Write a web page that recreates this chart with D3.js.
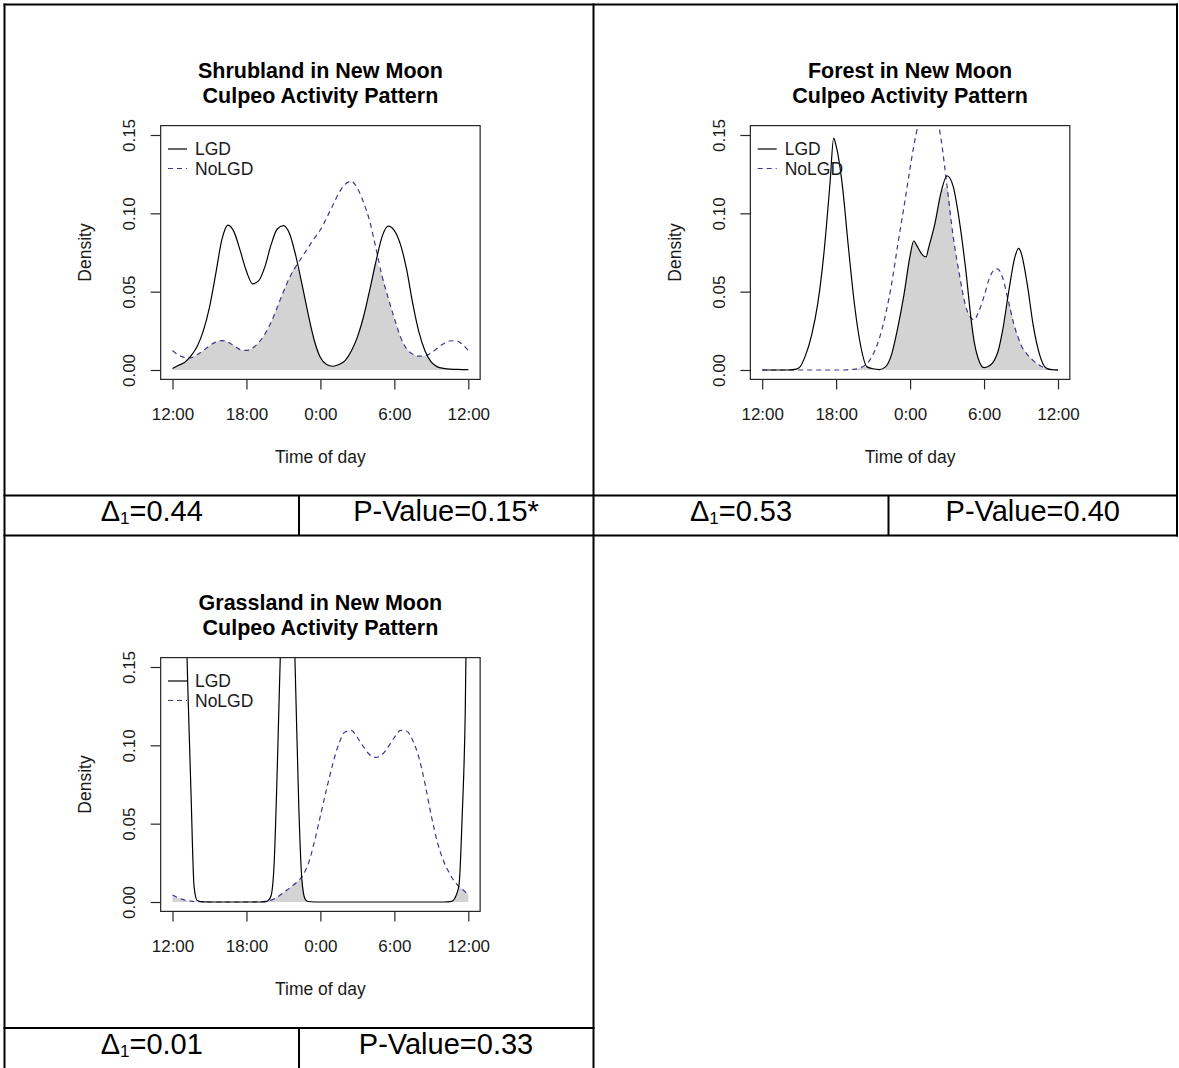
<!DOCTYPE html>
<html>
<head>
<meta charset="utf-8">
<script src="https://cdn.jsdelivr.net/npm/d3@7"></script>
<style>
  html, body { margin: 0; padding: 0; background: #fff; }
  svg { display: block; }
</style>
</head>
<body>
<svg id="fig" width="1179" height="1068"></svg>
<script>
// ---- Kernel density estimates of culpeo activity (hours after 12:00 noon) ----

// Shrubland
const shrubHours = [0,0.5,1,1.5,2,2.5,3,3.5,4,4.5,5,5.5,6,6.5,7,7.5,8,8.5,9,9.5,10,10.5,11,11.5,12,
  12.5,13,13.5,14,14.5,15,15.5,16,16.5,17,17.5,18,18.5,19,19.5,20,20.5,21,21.5,22,22.5,23,23.5,24];
const shrubLGD = [0.001,0.003,0.005,0.009,0.015,0.025,0.040,0.061,0.083,0.0925,0.088,0.076,0.063,0.055,0.057,0.066,
  0.080,0.090,0.0922,0.087,0.073,0.055,0.036,0.019,0.008,0.0035,0.0024,0.0035,0.006,0.012,0.021,0.034,0.051,0.069,
  0.085,0.0918,0.089,0.080,0.064,0.042,0.024,0.012,0.005,0.002,0.001,0.0005,0.0004,0.0003,0.0003];
const shrubNoLGD = [0.0124,0.0095,0.0080,0.0078,0.0098,0.0124,0.0155,0.0178,0.0188,0.0178,0.0155,0.0130,0.0125,
  0.0140,0.0175,0.0230,0.0305,0.0400,0.0500,0.0590,0.0660,0.0720,0.0780,0.0840,0.0895,0.0970,0.1050,0.1130,0.1185,
  0.1205,0.1160,0.1070,0.0950,0.0780,0.0600,0.0460,0.0330,0.0210,0.0135,0.0100,0.0088,0.0090,0.0110,0.0140,0.0168,
  0.0185,0.0187,0.0165,0.0124];

// Forest
const forestHours = [0,0.5,1,1.5,2,2.5,3,3.5,4,4.5,5,5.5,5.8,6,6.5,7,7.5,8,8.5,9,9.5,10,10.5,11,11.5,12,12.3,12.5,
  13,13.3,13.5,14,14.5,15,15.5,16,16.5,17,17.2,17.5,18,18.5,19,19.1,19.5,20,20.5,20.8,21,21.5,22,22.5,23,23.5,24];
const forestLGD = [0,0,0,0,0,0.0002,0.0015,0.009,0.022,0.042,0.074,0.119,0.148,0.143,0.118,0.078,0.041,0.015,0.002,
  0.0008,0.0003,0.002,0.010,0.027,0.048,0.073,0.0825,0.080,0.0735,0.0722,0.078,0.093,0.113,0.124,0.117,0.095,0.065,
  0.029,0.018,0.008,0.0015,0.003,0.009,0.011,0.025,0.050,0.072,0.0776,0.075,0.055,0.028,0.010,0.0015,0.0002,0];
const forestNoLGD = [0,0,0,0,0,0,0,0,0,0,0,0,0,0,0,0.0002,0.0005,0.0015,0.004,0.010,0.020,0.035,0.055,0.080,0.104,
  0.129,0.143,0.151,0.166,0.172,0.173,0.167,0.148,0.117,0.085,0.061,0.041,0.0328,0.032,0.036,0.047,0.060,0.0645,
  0.0645,0.059,0.043,0.027,0.020,0.016,0.010,0.006,0.003,0.001,0.0002,0];

// Grassland
const grassHours = [0,0.25,0.5,0.75,1,1.25,1.5,1.75,2,2.5,3,3.5,4,4.5,5,5.5,6,6.5,7,7.5,7.75,8,8.25,8.5,8.75,9,
  9.35,9.75,10,10.25,10.5,10.75,11,11.5,12,12.5,13,13.5,14,14.5,15,15.5,16,16.5,17,17.5,18,18.5,19,19.5,20,20.5,
  21,21.5,22,22.5,22.75,23,23.25,23.5,23.75,24];
const grassLGD = [0.28,0.30,0.30,0.27,0.21,0.135,0.07,0.01,0.001,0.0001,0,0,0,0,0,0,0,0,0,0.0001,0.0008,0.004,
  0.025,0.085,0.158,0.24,0.29,0.21,0.135,0.06,0.014,0.002,0.0003,0,0,0,0,0,0,0,0,0,0,0,0,0,0,0,0,0,0,0,0,0,0,
  0.0002,0.0008,0.004,0.011,0.054,0.12,0.28];
const grassNoLGD = [0.0045,0.0035,0.0025,0.0018,0.0012,0.0008,0.0005,0.0003,0.0002,0.0001,0,0,0,0,0,0,0,0.0001,
  0.0002,0.0004,0.0007,0.0012,0.002,0.003,0.0045,0.006,0.008,0.0105,0.012,0.0138,0.016,0.0195,0.024,0.038,0.055,
  0.072,0.088,0.101,0.1085,0.1095,0.105,0.099,0.094,0.0923,0.094,0.099,0.105,0.1095,0.109,0.103,0.092,0.075,0.055,
  0.038,0.026,0.018,0.0145,0.012,0.0098,0.0082,0.0065,0.0045];

// Panel text
const habitats = ["Shrubland", "Forest", "Grassland"];
const subtitle = "Culpeo Activity Pattern";
const deltaValues = ["0.44", "0.53", "0.01"];
const pValues = ["0.15*", "0.40", "0.33"];
const seriesNames = ["LGD", "NoLGD"];

// Axis ticks
const tickHours = [0, 6, 12, 18, 24];
const tickLabels = ["12:00", "18:00", "0:00", "6:00", "12:00"];
const densityTicks = [0, 0.05, 0.10, 0.15];

// ---- drawing ----
const FONT = "'Liberation Sans', Arial, Helvetica, sans-serif";
const svg = d3.select("#fig");
svg.append("rect").attr("width", 1179).attr("height", 1068).attr("fill", "#fff");

// scales shared by every panel (panel-local coordinates)
const x = d3.scaleLinear().domain([0, 24]).range([172.5, 468.3]);
const y = d3.scaleLinear().domain([0, 0.15]).range([370, 135]);
const xPad = (x.range()[1] - x.range()[0]) * 0.04;
const yPad = (y.range()[0] - y.range()[1]) * 0.04;
const box = { x0: x.range()[0] - xPad, x1: x.range()[1] + xPad,
              y0: y.range()[1] - yPad, y1: y.range()[0] + yPad };

const panels = [
  { hours: shrubHours,  lgd: shrubLGD,  nolgd: shrubNoLGD,  dx: 0,     dy: 0 },
  { hours: forestHours, lgd: forestLGD, nolgd: forestNoLGD, dx: 589.7, dy: 0 },
  { hours: grassHours,  lgd: grassLGD,  nolgd: grassNoLGD,  dx: 0,     dy: 532 }
];

const LGD_COLOR = "#000";
const NOLGD_COLOR = "#3a3a8e";
const OVERLAP_COLOR = "#d3d3d3";

panels.forEach((p, i) => {
  const g = svg.append("g").attr("transform", `translate(${p.dx},${p.dy})`);
  const clipId = "clip" + i;
  g.append("clipPath").attr("id", clipId)
    .append("rect").attr("x", box.x0).attr("y", box.y0)
    .attr("width", box.x1 - box.x0).attr("height", box.y1 - box.y0);

  const rows = p.hours.map((h, k) => ({ h, a: p.lgd[k], b: p.nolgd[k] }));
  const plot = g.append("g").attr("clip-path", `url(#${clipId})`);

  // shared area (overlap of the two densities)
  plot.append("path").datum(rows)
    .attr("fill", OVERLAP_COLOR)
    .attr("d", d3.area().curve(d3.curveMonotoneX)
      .x(d => x(d.h)).y0(y(0)).y1(d => y(Math.min(d.a, d.b))));

  plot.append("path").datum(rows)
    .attr("fill", "none").attr("stroke", NOLGD_COLOR).attr("stroke-width", 1.2)
    .attr("stroke-dasharray", "5,4")
    .attr("d", d3.line().curve(d3.curveMonotoneX).x(d => x(d.h)).y(d => y(d.b)));

  plot.append("path").datum(rows)
    .attr("fill", "none").attr("stroke", LGD_COLOR).attr("stroke-width", 1.2)
    .attr("d", d3.line().curve(d3.curveMonotoneX).x(d => x(d.h)).y(d => y(d.a)));

  // plot frame
  g.append("rect").attr("x", box.x0).attr("y", box.y0)
    .attr("width", box.x1 - box.x0).attr("height", box.y1 - box.y0)
    .attr("fill", "none").attr("stroke", "#262626").attr("stroke-width", 1.2);

  // x axis
  const xa = g.append("g").attr("transform", `translate(0,${box.y1})`)
    .call(d3.axisBottom(x).tickValues(tickHours).tickFormat((d, k) => tickLabels[k])
      .tickSize(10).tickSizeOuter(0));
  xa.select(".domain").remove();
  xa.selectAll("line").attr("stroke", "#262626").attr("stroke-width", 1.2);
  xa.selectAll("text").attr("dy", null).attr("y", 420 - box.y1)
    .attr("font-family", FONT).attr("font-size", 17).attr("fill", "#1a1a1a");

  // y axis
  const ya = g.append("g").attr("transform", `translate(${box.x0},0)`)
    .call(d3.axisLeft(y).tickValues(densityTicks).tickFormat(d3.format(".2f"))
      .tickSize(10).tickSizeOuter(0));
  ya.select(".domain").remove();
  ya.selectAll("line").attr("stroke", "#262626").attr("stroke-width", 1.2);
  ya.selectAll("text").attr("x", null).attr("dy", null)
    .attr("text-anchor", "middle")
    .attr("transform", `translate(${135 - box.x0},0) rotate(-90)`)
    .attr("font-family", FONT).attr("font-size", 17).attr("fill", "#1a1a1a");

  // axis titles
  g.append("text").attr("x", (box.x0 + box.x1) / 2).attr("y", 463)
    .attr("text-anchor", "middle").attr("font-family", FONT).attr("font-size", 17.5)
    .attr("fill", "#1a1a1a").text("Time of day");
  g.append("text")
    .attr("transform", `translate(91,${(box.y0 + box.y1) / 2}) rotate(-90)`)
    .attr("text-anchor", "middle").attr("font-family", FONT).attr("font-size", 17.5)
    .attr("fill", "#1a1a1a").text("Density");

  // title
  const cx = (box.x0 + box.x1) / 2;
  g.append("text").attr("x", cx).attr("y", 77.5).attr("text-anchor", "middle")
    .attr("font-family", FONT).attr("font-weight", "bold").attr("font-size", 21.5)
    .attr("fill", "#000").text(`${habitats[i]} in New Moon`);
  g.append("text").attr("x", cx).attr("y", 103).attr("text-anchor", "middle")
    .attr("font-family", FONT).attr("font-weight", "bold").attr("font-size", 21.5)
    .attr("fill", "#000").text(subtitle);

  // legend
  const lg = g.append("g");
  [0, 1].forEach(k => {
    const ly = 149 + k * 19.5;
    lg.append("line").attr("x1", 168).attr("x2", 187).attr("y1", ly).attr("y2", ly)
      .attr("stroke", k === 0 ? LGD_COLOR : NOLGD_COLOR).attr("stroke-width", 1.2)
      .attr("stroke-dasharray", k === 0 ? null : "5,4");
    lg.append("text").attr("x", 195).attr("y", ly + 6)
      .attr("font-family", FONT).attr("font-size", 17.5).attr("fill", "#1a1a1a")
      .text(seriesNames[k]);
  });
});

// ---- surrounding table ----
const T = svg.append("g").attr("stroke", "#000").attr("stroke-width", 2);
const hline = (x1, x2, yy) => T.append("line").attr("x1", x1).attr("x2", x2).attr("y1", yy).attr("y2", yy);
const vline = (xx, y1, y2) => T.append("line").attr("x1", xx).attr("x2", xx).attr("y1", y1).attr("y2", y2);
hline(3.5, 1178, 4.5);
hline(3.5, 1178, 495.5);
hline(3.5, 1178, 535.5);
hline(3.5, 594.5, 1028);
vline(4.5, 3.5, 1068);
vline(593.5, 3.5, 1068);
vline(1177, 3.5, 536.5);
vline(299, 495.5, 535.5);
vline(888.5, 495.5, 535.5);
vline(299, 1028, 1068);

// statistic cells
const statCells = [
  { dx: 151.75, px: 446,     by: 521 },
  { dx: 741,    px: 1032.75, by: 521 },
  { dx: 151.75, px: 446,     by: 1054 }
];
statCells.forEach((c, i) => {
  const t = svg.append("text").attr("x", c.dx).attr("y", c.by).attr("text-anchor", "middle")
    .attr("font-family", FONT).attr("font-size", 29).attr("fill", "#000");
  t.append("tspan").text("Δ");
  t.append("tspan").attr("font-size", 17).attr("dy", 3).text("1");
  t.append("tspan").attr("dy", -3).text(`=${deltaValues[i]}`);
  svg.append("text").attr("x", c.px).attr("y", c.by).attr("text-anchor", "middle")
    .attr("font-family", FONT).attr("font-size", 29).attr("fill", "#000")
    .text(`P-Value=${pValues[i]}`);
});
</script>
</body>
</html>
